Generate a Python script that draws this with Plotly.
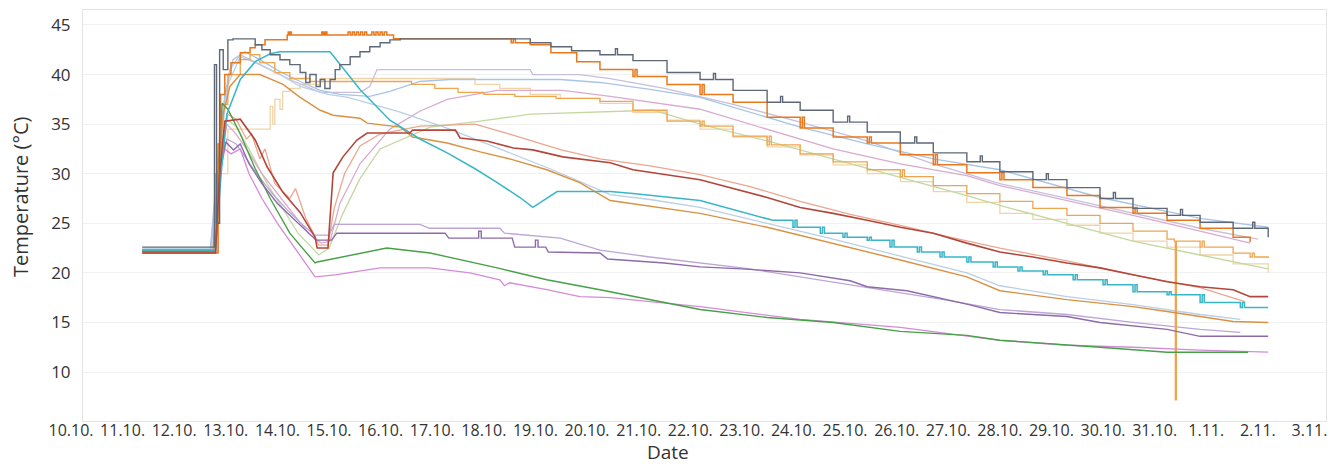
import pandas as pd
import plotly.graph_objects as go

START = pd.Timestamp("2023-10-10")

X_LABELS = ["10.10.", "11.10.", "12.10.", "13.10.", "14.10.", "15.10.", "16.10.",
            "17.10.", "18.10.", "19.10.", "20.10.", "21.10.", "22.10.", "23.10.",
            "24.10.", "25.10.", "26.10.", "27.10.", "28.10.", "29.10.", "30.10.",
            "31.10.", "1.11.", "2.11.", "3.11."]
Y_TICKS = [10, 15, 20, 25, 30, 35, 40, 45]

# (days since 10.10. 00:00, temperature °C)
LIGHT_BLUE = [(1.38, 22.4), (2.70, 22.4), (2.85, 30.0), (2.98, 38.0), (3.14, 41.5), (3.37, 42.3),
              (3.66, 41.5), (4.05, 40.3), (4.44, 39.3), (4.83, 38.4), (5.21, 38.0), (5.79, 37.8),
              (6.18, 38.3), (6.76, 39.3), (7.34, 39.5), (9.48, 39.5), (10.25, 39.2), (11.22, 38.5),
              (12.19, 37.7), (13.49, 35.7), (14.13, 34.7), (15.43, 33.0), (16.71, 31.5), (18.00, 30.4),
              (19.94, 27.6), (21.88, 25.5), (23.20, 24.6)]

GRAY = [(1.38, 22.6), (2.75, 22.6), (2.78, 41.0), (2.82, 25.0), (2.88, 42.5), (2.95, 40.5),
        (3.04, 43.5), (3.14, 43.6), (3.50, 43.6), (3.57, 43.0), (3.70, 42.5), (3.86, 42.0),
        (4.05, 41.5), (4.24, 41.0), (4.44, 40.2), (4.55, 39.2), (4.63, 40.0), (4.75, 38.8),
        (4.83, 39.5), (4.92, 38.6), (5.02, 39.5), (5.12, 40.5), (5.21, 41.0), (5.41, 41.8),
        (5.60, 42.3), (5.79, 42.8), (5.99, 43.2), (6.18, 43.5), (6.38, 43.6), (8.60, 43.6),
        (8.90, 43.2), (9.30, 42.8), (9.70, 42.4), (10.25, 42.0), (10.55, 42.6), (10.59, 42.0),
        (10.89, 41.4), (11.55, 40.2), (12.19, 39.5), (12.45, 40.1), (12.49, 39.5), (12.83, 38.4),
        (13.49, 37.2), (13.75, 37.8), (13.79, 37.2), (14.13, 36.4), (14.77, 35.2), (15.05, 35.8),
        (15.09, 35.2), (15.43, 34.2), (16.07, 33.1), (16.35, 33.7), (16.39, 33.1), (16.71, 32.1),
        (17.36, 31.2), (17.62, 31.8), (17.66, 31.2), (18.00, 30.2), (18.64, 29.4), (18.90, 30.0),
        (18.94, 29.4), (19.30, 28.6), (19.94, 27.5), (20.20, 28.1), (20.24, 27.5), (20.58, 26.5),
        (21.24, 25.8), (21.50, 26.4), (21.54, 25.8), (21.88, 25.1), (22.52, 24.5), (22.90, 25.1),
        (22.94, 24.5), (23.20, 23.6)]

DARK_ORANGE = [(1.38, 22.0), (2.80, 22.0), (2.85, 33.0), (2.90, 38.0), (2.98, 40.0), (3.10, 41.2),
               (3.28, 42.2), (3.47, 42.7), (3.57, 43.0), (3.76, 43.5), (4.19, 44.0), (4.21, 44.3),
               (4.23, 44.0), (4.25, 44.3), (4.27, 44.0), (4.86, 44.3), (4.88, 44.0), (4.90, 44.3),
               (4.92, 44.0), (4.94, 44.3), (4.96, 44.0), (5.37, 44.3), (5.41, 44.0), (5.45, 44.3),
               (5.49, 44.0), (5.53, 44.3), (5.57, 44.0), (5.61, 44.3), (5.65, 44.0), (5.69, 44.3),
               (5.73, 44.0), (5.83, 44.3), (5.87, 44.0), (5.91, 44.3), (5.95, 44.0), (5.99, 44.3),
               (6.03, 44.0), (6.07, 44.3), (6.12, 44.0), (6.25, 43.6), (8.50, 43.6), (8.53, 43.2),
               (8.57, 43.6), (8.61, 43.2), (8.90, 43.0), (9.30, 42.2), (9.80, 41.3), (10.25, 40.5),
               (10.89, 39.8), (10.93, 40.5), (10.97, 39.8), (11.55, 39.0), (12.19, 38.0), (12.23, 39.0),
               (12.27, 38.0), (12.83, 37.2), (13.49, 35.7), (14.13, 34.6), (14.17, 35.7), (14.21, 34.6),
               (14.77, 33.7), (15.43, 33.1), (15.47, 33.7), (15.51, 33.1), (16.07, 31.9), (16.71, 30.9),
               (16.75, 31.9), (16.79, 30.9), (17.36, 30.1), (18.00, 29.4), (18.04, 30.1), (18.08, 29.4),
               (18.64, 28.6), (19.30, 27.8), (19.94, 26.6), (20.58, 26.0), (20.62, 26.6), (20.66, 26.0),
               (21.24, 25.3), (21.88, 24.5), (22.52, 23.6), (22.85, 23.1)]

ORANGE = [(1.38, 22.3), (2.72, 22.3), (2.80, 30.0), (2.90, 37.0), (3.04, 40.0), (3.28, 41.5),
          (3.47, 42.0), (3.66, 41.2), (3.95, 40.2), (4.24, 39.6), (4.63, 39.3), (6.60, 39.0),
          (7.05, 38.6), (7.50, 38.2), (8.00, 38.0), (8.60, 37.8), (9.40, 37.6), (10.25, 37.3),
          (10.89, 36.4), (11.55, 35.3), (12.19, 34.8), (12.23, 35.3), (12.27, 34.8), (12.83, 33.8),
          (13.49, 32.9), (13.53, 33.8), (13.57, 32.9), (14.13, 32.0), (14.77, 31.2), (15.43, 30.4),
          (16.07, 29.7), (16.11, 30.4), (16.15, 29.7), (16.71, 28.8), (17.36, 28.0), (18.00, 27.2),
          (18.64, 26.5), (19.30, 25.8), (19.94, 25.0), (20.58, 24.2), (21.24, 23.4), (21.38, 23.2),
          (21.40, 7.2), (21.42, 23.2), (21.88, 22.6), (21.92, 23.2), (21.96, 22.6), (22.52, 22.0),
          (22.85, 21.6), (22.89, 22.0), (22.93, 21.6), (23.20, 21.5)]

PALE_PEACH = [(1.38, 22.2), (2.50, 22.2), (2.85, 30.0), (3.04, 34.5), (3.76, 34.5), (3.86, 36.8),
              (3.91, 35.0), (3.95, 37.5), (4.05, 36.5), (4.10, 38.3), (4.24, 38.6), (4.44, 39.0),
              (4.83, 39.6), (7.34, 39.6), (7.83, 39.0), (8.31, 38.6), (8.90, 38.0), (9.48, 37.6),
              (10.25, 37.1), (10.89, 36.2), (11.55, 35.4), (12.19, 34.5), (12.83, 33.7), (13.49, 32.7),
              (14.13, 31.9), (14.77, 30.9), (15.43, 30.0), (16.07, 29.2), (16.71, 28.2), (17.36, 27.1),
              (18.00, 26.0), (18.64, 25.4), (19.30, 24.8), (19.94, 24.0), (20.58, 23.2), (21.24, 22.6),
              (21.88, 21.8), (22.52, 20.9), (23.20, 20.0)]

DARK_RED = [(1.38, 22.0), (2.80, 22.0), (2.88, 30.0), (2.98, 35.3), (3.28, 35.5), (3.57, 33.4),
            (3.80, 30.7), (4.11, 28.1), (4.44, 26.1), (4.73, 23.6), (4.77, 22.5), (4.98, 22.5),
            (5.08, 30.1), (5.27, 31.7), (5.54, 33.4), (5.74, 34.1), (6.57, 34.1), (6.62, 34.4),
            (7.45, 34.4), (7.54, 33.6), (8.06, 33.3), (8.57, 32.6), (8.95, 32.4), (9.53, 31.7),
            (10.45, 31.1), (10.89, 30.4), (12.19, 29.4), (13.49, 27.6), (14.13, 26.6), (14.77, 26.0),
            (15.43, 25.3), (16.07, 24.6), (16.71, 24.0), (17.36, 23.0), (18.00, 22.1), (18.64, 21.6),
            (19.30, 21.0), (19.94, 20.5), (20.58, 19.8), (21.24, 19.1), (21.88, 18.6), (22.52, 18.3),
            (22.85, 17.6), (23.20, 17.6)]

SALMON = [(1.38, 22.2), (2.78, 22.2), (2.90, 32.0), (3.04, 36.0), (3.20, 35.5), (3.40, 33.5),
          (3.50, 34.0), (3.66, 31.5), (3.76, 32.5), (3.95, 29.0), (4.24, 27.5), (4.35, 28.5),
          (4.55, 25.5), (4.70, 24.0), (4.80, 22.8), (4.98, 22.8), (5.10, 26.5), (5.30, 30.0),
          (5.60, 32.8), (5.99, 34.0), (6.76, 34.8), (7.83, 35.0), (8.50, 34.0), (9.50, 32.4),
          (10.25, 31.5), (11.22, 30.8), (12.19, 29.9), (13.16, 28.7), (14.13, 27.2), (15.10, 25.9),
          (16.07, 24.8), (17.03, 23.6), (18.00, 22.5), (19.30, 21.2), (20.58, 19.8), (21.88, 18.5),
          (22.75, 17.1)]

CYAN = [(1.38, 22.3), (2.80, 22.3), (2.91, 30.0), (3.02, 36.0), (3.28, 39.5), (3.57, 41.3),
        (3.86, 42.1), (4.05, 42.3), (5.02, 42.3), (5.25, 40.8), (5.60, 38.5), (6.18, 35.4),
        (6.76, 33.5), (7.29, 32.1), (7.83, 30.5), (8.26, 29.1), (8.70, 27.6), (8.95, 26.6),
        (9.19, 27.4), (9.42, 28.2), (10.45, 28.2), (10.89, 28.0), (12.19, 27.3), (13.60, 25.3)]

CYAN_STEPS = [(13.60, 25.3),
              (13.99, 24.6), (14.03, 25.3), (14.07, 24.6),
              (14.52, 24.0), (14.56, 24.6), (14.60, 24.0),
              (14.96, 23.6), (15.00, 24.0), (15.04, 23.6),
              (15.43, 23.3), (15.47, 23.6), (15.51, 23.3),
              (15.87, 22.6), (15.91, 23.3), (15.95, 22.6),
              (16.40, 22.1), (16.44, 22.6), (16.48, 22.1),
              (16.84, 21.6), (16.88, 22.1), (16.92, 21.6),
              (17.36, 21.1), (17.40, 21.6), (17.44, 21.1),
              (17.87, 20.6), (17.91, 21.1), (17.95, 20.6),
              (18.35, 20.2), (18.39, 20.6), (18.43, 20.2),
              (18.84, 19.8), (18.88, 20.2), (18.92, 19.8),
              (19.42, 19.3), (19.46, 19.8), (19.50, 19.3),
              (20.00, 18.8), (20.04, 19.3), (20.08, 18.8),
              (20.58, 18.1), (20.62, 18.8), (20.66, 18.1),
              (21.24, 17.8), (21.28, 18.1), (21.32, 17.8),
              (21.88, 17.0), (21.92, 17.8), (21.96, 17.0),
              (22.66, 16.5), (22.70, 17.0), (22.74, 16.5),
              (23.20, 16.5)]

TAN = [(1.38, 22.2), (2.75, 22.2), (2.85, 30.0), (2.95, 36.0), (3.08, 38.8), (3.28, 40.0),
       (3.66, 40.0), (4.11, 39.0), (4.44, 37.7), (4.83, 36.4), (5.08, 35.9), (5.60, 35.6),
       (5.74, 35.1), (6.38, 34.7), (6.62, 33.7), (7.29, 33.1), (7.93, 32.2), (8.57, 31.4),
       (9.22, 30.4), (9.86, 29.1), (10.45, 27.3), (12.19, 26.0), (13.49, 24.6), (14.77, 23.0),
       (16.07, 21.3), (17.36, 19.6), (18.00, 18.2), (19.30, 17.3), (20.58, 16.6), (21.24, 16.1),
       (22.52, 15.1), (23.20, 15.0)]

BLUE_GRAY = [(1.38, 22.4), (2.72, 22.4), (2.88, 32.0), (3.04, 39.0), (3.28, 41.8), (3.66, 41.0),
             (4.05, 40.0), (4.44, 38.8), (4.98, 38.0), (5.37, 37.7), (6.38, 36.2), (7.34, 34.5),
             (8.31, 32.5), (9.28, 30.5), (10.45, 27.9), (11.22, 27.4), (12.19, 26.6), (13.49, 25.0),
             (14.77, 23.4), (16.07, 21.7), (17.36, 20.0), (18.00, 18.7), (19.30, 17.6), (20.58, 16.8),
             (21.88, 15.8), (22.66, 15.3)]

PURPLE = [(1.38, 22.1), (2.80, 22.1), (2.90, 31.0), (3.00, 33.2), (3.15, 32.4), (3.28, 33.0),
          (3.45, 31.0), (3.70, 29.0), (4.00, 27.0), (4.30, 25.5), (4.55, 24.2), (4.75, 23.3),
          (5.05, 23.3), (5.15, 24.0), (7.25, 24.0), (7.32, 23.5), (7.90, 23.5), (7.90, 24.2),
          (7.95, 24.2), (7.95, 23.5), (8.55, 23.5), (8.60, 22.6), (9.00, 22.6), (9.00, 23.3),
          (9.05, 23.3), (9.05, 22.6), (9.20, 22.6), (9.25, 22.1), (10.25, 22.0), (10.40, 21.4),
          (11.50, 21.0), (12.19, 20.6), (13.00, 20.4), (14.13, 20.0), (15.10, 19.2), (15.43, 18.6),
          (16.20, 18.2), (16.71, 17.6), (17.40, 16.8), (18.00, 16.0), (19.30, 15.6), (19.94, 15.0),
          (21.24, 14.3), (21.88, 13.6), (23.20, 13.6)]

LIGHT_PURPLE = [(1.38, 22.3), (2.78, 22.3), (2.90, 30.5), (3.02, 33.5), (3.20, 33.0), (3.40, 31.5),
                (3.60, 30.0), (3.90, 28.0), (4.20, 26.3), (4.50, 24.8), (4.72, 23.8), (5.00, 23.8),
                (5.10, 24.9), (6.76, 24.9), (6.95, 24.5), (8.31, 24.5), (8.40, 24.0), (9.48, 23.5),
                (10.25, 22.3), (11.22, 21.6), (12.19, 21.0), (13.16, 20.4), (14.13, 19.6), (15.10, 18.8),
                (16.07, 18.0), (17.03, 17.2), (18.00, 16.3), (19.30, 15.8), (20.58, 15.0), (21.88, 14.3),
                (22.66, 14.0)]

ORCHID = [(1.38, 22.2), (2.78, 22.2), (2.88, 30.0), (2.98, 32.5), (3.10, 32.0), (3.28, 32.5),
          (3.45, 30.0), (3.70, 27.5), (4.00, 25.0), (4.30, 22.8), (4.55, 21.0), (4.73, 19.6),
          (5.12, 19.8), (5.99, 20.5), (6.95, 20.5), (7.73, 20.0), (8.31, 19.3), (8.40, 18.7),
          (8.50, 19.0), (9.22, 18.3), (9.86, 17.6), (10.45, 17.5), (12.19, 16.6), (14.13, 15.3),
          (16.07, 14.5), (18.00, 13.2), (19.30, 12.7), (20.58, 12.5), (21.88, 12.2), (23.20, 12.0)]

GREEN = [(1.38, 22.2), (2.80, 22.2), (2.85, 30.0), (2.93, 37.1), (3.04, 36.5), (3.28, 34.0),
         (3.57, 30.5), (3.86, 27.5), (4.24, 24.0), (4.73, 21.0), (4.77, 21.1), (6.12, 22.5),
         (6.96, 22.0), (8.26, 20.5), (9.22, 19.3), (10.25, 18.3), (12.19, 16.3), (13.49, 15.5),
         (14.77, 15.0), (16.07, 14.1), (17.36, 13.7), (18.00, 13.2), (19.94, 12.5), (21.24, 12.0),
         (22.81, 12.0)]

LAVENDER = [(1.38, 22.3), (2.70, 22.3), (2.90, 35.0), (3.08, 40.5), (3.28, 42.0), (3.66, 41.0),
            (4.24, 39.5), (4.83, 38.2), (5.60, 38.2), (5.79, 38.8), (5.93, 40.5), (8.90, 40.5),
            (8.95, 40.0), (9.86, 40.0), (10.45, 39.6), (11.50, 38.6), (12.83, 37.0), (14.13, 35.2),
            (15.43, 33.3), (16.71, 31.0), (18.00, 29.0), (19.30, 27.5), (20.58, 26.0), (21.88, 24.5),
            (23.00, 23.4)]

MAUVE = [(1.38, 22.2), (2.78, 22.2), (2.90, 31.0), (3.02, 35.0), (3.20, 34.0), (3.40, 32.5),
         (3.70, 30.0), (4.00, 28.0), (4.30, 26.0), (4.60, 24.0), (4.85, 23.0), (5.02, 23.2),
         (5.21, 27.0), (5.60, 31.0), (6.18, 34.5), (6.76, 36.3), (7.29, 37.5), (8.26, 38.4),
         (9.53, 38.4), (10.45, 37.8), (12.19, 36.5), (13.49, 34.5), (14.77, 32.5), (16.07, 31.0),
         (17.36, 29.8), (18.00, 28.8), (19.30, 27.3), (20.58, 25.8), (21.88, 24.2), (22.85, 23.0)]

PALE_GREEN = [(1.38, 22.3), (2.75, 22.3), (2.88, 32.0), (3.00, 35.5), (3.20, 34.8), (3.50, 32.0),
              (3.80, 29.0), (4.10, 26.5), (4.40, 24.0), (4.80, 21.8), (5.00, 22.5), (5.27, 26.0),
              (5.60, 29.5), (5.99, 32.5), (6.96, 34.7), (7.93, 35.3), (8.90, 36.0), (11.28, 36.4),
              (12.19, 35.0), (13.49, 33.3), (14.77, 31.5), (16.07, 29.6), (17.36, 27.8), (18.00, 26.8),
              (19.30, 25.0), (20.58, 23.2), (21.88, 21.8), (23.20, 20.4)]

# drawing order: light first, dark on top
SERIES = [
    (PALE_PEACH, "#f1d3a6", "hv", 1.3),
    (PALE_GREEN, "#c4d8a0", "linear", 1.3),
    (LAVENDER, "#c7bfdd", "linear", 1.3),
    (MAUVE, "#d9abcd", "linear", 1.3),
    (BLUE_GRAY, "#b8cfe6", "linear", 1.3),
    (LIGHT_BLUE, "#a7c5e5", "linear", 1.3),
    (SALMON, "#eca690", "linear", 1.3),
    (LIGHT_PURPLE, "#bda6d6", "linear", 1.3),
    (ORANGE, "#efa54f", "hv", 1.3),
    (TAN, "#d99142", "linear", 1.4),
    (ORCHID, "#d48bd8", "linear", 1.3),
    (GREEN, "#46a046", "linear", 1.4),
    (PURPLE, "#8c6ba8", "linear", 1.4),
    (CYAN, "#38b6c8", "linear", 1.5),
    (CYAN_STEPS, "#38b6c8", "hv", 1.5),
    (DARK_ORANGE, "#e9781c", "hv", 1.5),
    (DARK_RED, "#b3463a", "linear", 1.6),
    (GRAY, "#5e6877", "hv", 1.4),
]


def to_dates(days):
    return [START + pd.to_timedelta(d, unit="D") for d in days]


fig = go.Figure()
for data, color, shape, width in SERIES:
    days = [p[0] for p in data]
    temps = [p[1] for p in data]
    fig.add_trace(go.Scatter(x=to_dates(days), y=temps, mode="lines",
                             line=dict(color=color, width=width, shape=shape),
                             showlegend=False, hoverinfo="skip"))

LEFT_PAD = pd.to_timedelta(0.2326, unit="D")
tickvals = [START + pd.to_timedelta(i, unit="D") + LEFT_PAD for i in range(len(X_LABELS))]

W, H = 1335, 468
L, R, T, B = 83, 9, 10, 47
fig.update_layout(
    width=W, height=H,
    margin=dict(l=L, r=R, t=T, b=B),
    paper_bgcolor="white", plot_bgcolor="white",
    font=dict(family="Open Sans, Noto Sans, sans-serif", color="#333333"),
    xaxis=dict(type="date",
               range=[START + LEFT_PAD, START + pd.to_timedelta(24.32, unit="D")],
               tickvals=tickvals, ticktext=X_LABELS, ticklabelshift=-12,
               ticklabelstandoff=-5,
               showgrid=False, zeroline=False, ticks="",
               showline=True, linecolor="#e4e4e4", linewidth=1, mirror=True,
               tickfont=dict(size=16, color="#333333")),
    yaxis=dict(range=[5.06, 46.51], tickvals=Y_TICKS, ticks="",
               showgrid=True, gridcolor="#f1f1f1", gridwidth=1, zeroline=False,
               showline=True, linecolor="#e4e4e4", linewidth=1, mirror=True,
               ticklabelstandoff=8,
               tickfont=dict(size=17, color="#333333")),
    annotations=[
        dict(text="Date", xref="paper", yref="paper",
             x=(668 - L) / (W - L - R), y=(H - B - 467) / (H - T - B),
             xanchor="center", yanchor="bottom", showarrow=False,
             font=dict(size=19, color="#333333")),
        dict(text="Temperature (°C)", xref="paper", yref="paper",
             x=(20 - L) / (W - L - R), y=(H - B - 197) / (H - T - B),
             xanchor="center", yanchor="middle", textangle=-90, showarrow=False,
             font=dict(size=20, color="#333333")),
    ],
)

fig.write_html("out.html")
